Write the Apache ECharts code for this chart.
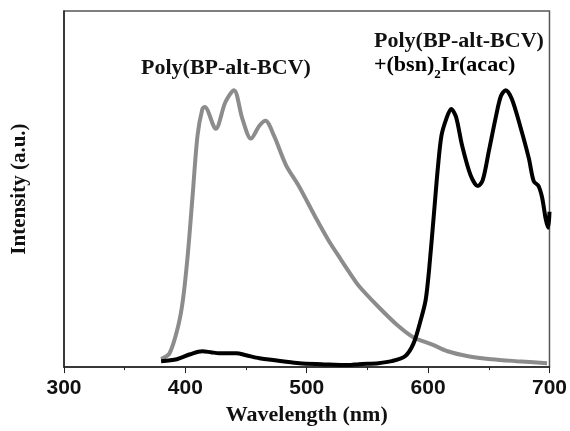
<!DOCTYPE html>
<html style="height: 100%">
<head>
<meta charset="utf-8">
<title>PL spectra</title>
<script src="https://cdn.jsdelivr.net/npm/echarts@6/dist/echarts.min.js"></script>
</head>
<body style="height: 100%; margin: 0; background: #fff">
<div id="container" style="width: 570px; height: 431px"></div>
<script type="text/javascript">
// wavelength (nm) and intensity (a.u.)
var polyWl = [380, 387, 394, 398, 402, 406, 410, 414, 416, 425, 433, 440, 447, 454, 461, 466, 473, 483, 493, 507, 518, 528, 535, 543, 559, 575, 588, 603, 616, 633, 652, 673, 698];
var polyVal = [8, 14, 41, 68, 114, 174, 234, 261, 263, 241, 268, 280, 251, 231, 244, 249, 234, 204, 184, 152, 128, 109, 96, 82, 61, 42, 30, 23, 16, 11, 8, 6, 4];

var blendWl = [380, 393, 404, 414, 421, 428, 442, 450, 461, 480, 494, 512, 534, 543, 559, 570, 581, 588, 594, 598, 601, 605, 608, 611, 615, 619, 623, 628, 635, 641, 645, 650, 656, 660, 664, 669, 676, 683, 687, 691, 694, 697, 699, 700];
var blendVal = [6, 8, 13, 16, 15, 14, 14, 12, 9, 6, 4, 3, 2, 3, 4, 6, 11, 24, 48, 68, 101, 158, 201, 234, 251, 261, 253, 224, 194, 183, 189, 218, 254, 274, 280, 271, 243, 211, 188, 183, 171, 149, 141, 157];

var xTicks = [300, 400, 500, 600, 700];

function pairs(xs, ys) {
	var out = [];
	for (var i = 0; i < xs.length; i++) {
		out.push([xs[i], ys[i]]);
	}
	return out;
}

var myChart = echarts.init(document.getElementById('container'));

var serif = '"Liberation Serif", "Times New Roman", serif';

var option = {
	animation: false,
	grid: {
		left: 64,
		right: 18,
		top: 11,
		bottom: 60,
		show: true,
		borderColor: '#555',
		borderWidth: 1.5
	},
	xAxis: {
		type: 'value',
		min: 300,
		max: 700,
		interval: 100,
		name: 'Wavelength (nm)',
		nameLocation: 'middle',
		nameGap: 32,
		nameTextStyle: {
			fontFamily: serif,
			fontWeight: 'bold',
			fontSize: 22,
			color: '#111'
		},
		axisLine: { lineStyle: { color: '#222', width: 1.5 } },
		axisTick: { length: 6, lineStyle: { color: '#222' } },
		minorTick: { show: true, splitNumber: 2, length: 3, lineStyle: { color: '#222' } },
		splitLine: { show: false },
		axisLabel: {
			margin: 11,
			fontFamily: '"Liberation Sans", Arial, sans-serif',
			fontWeight: 'bold',
			fontSize: 21,
			color: '#111',
			formatter: function (v) {
				return xTicks.indexOf(v) >= 0 ? String(v) : '';
			}
		}
	},
	yAxis: {
		type: 'value',
		min: 0,
		max: 360,
		name: 'Intensity (a.u.)',
		nameLocation: 'middle',
		nameRotate: 90,
		nameGap: 34,
		nameTextStyle: {
			fontFamily: serif,
			fontWeight: 'bold',
			fontSize: 21,
			color: '#111'
		},
		axisLine: { show: true, lineStyle: { color: '#222', width: 1.5 } },
		axisTick: { show: false },
		axisLabel: { show: false },
		splitLine: { show: false }
	},
	series: [{
		name: 'Poly(BP-alt-BCV)',
		type: 'line',
		data: pairs(polyWl, polyVal),
		smooth: 0.3,
		showSymbol: false,
		lineStyle: { color: '#8c8c8c', width: 4 }
	}, {
		name: 'Poly(BP-alt-BCV)+(bsn)2Ir(acac)',
		type: 'line',
		data: pairs(blendWl, blendVal),
		smooth: 0.3,
		showSymbol: false,
		lineStyle: { color: '#000', width: 4 }
	}],
	graphic: [{
		type: 'text',
		left: 141,
		top: 57,
		style: {
			text: 'Poly(BP-alt-BCV)',
			font: 'bold 22px ' + serif,
			fill: '#111'
		}
	}, {
		type: 'text',
		left: 374,
		top: 30,
		style: {
			text: 'Poly(BP-alt-BCV)',
			font: 'bold 22px ' + serif,
			fill: '#111'
		}
	}, {
		type: 'text',
		left: 374,
		top: 54,
		style: {
			text: '{a|+(bsn)}{s|2}{a|Ir(acac)}',
			rich: {
				a: {
					fontFamily: serif,
					fontWeight: 'bold',
					fontSize: 22,
					lineHeight: 24,
					verticalAlign: 'top',
					color: '#111'
				},
				s: {
					fontFamily: serif,
					fontWeight: 'bold',
					fontSize: 13,
					lineHeight: 13,
					verticalAlign: 'top',
					padding: [14, 0, 0, 0],
					color: '#111'
				}
			}
		}
	}]
};

myChart.setOption(option);
</script>
</body>
</html>
